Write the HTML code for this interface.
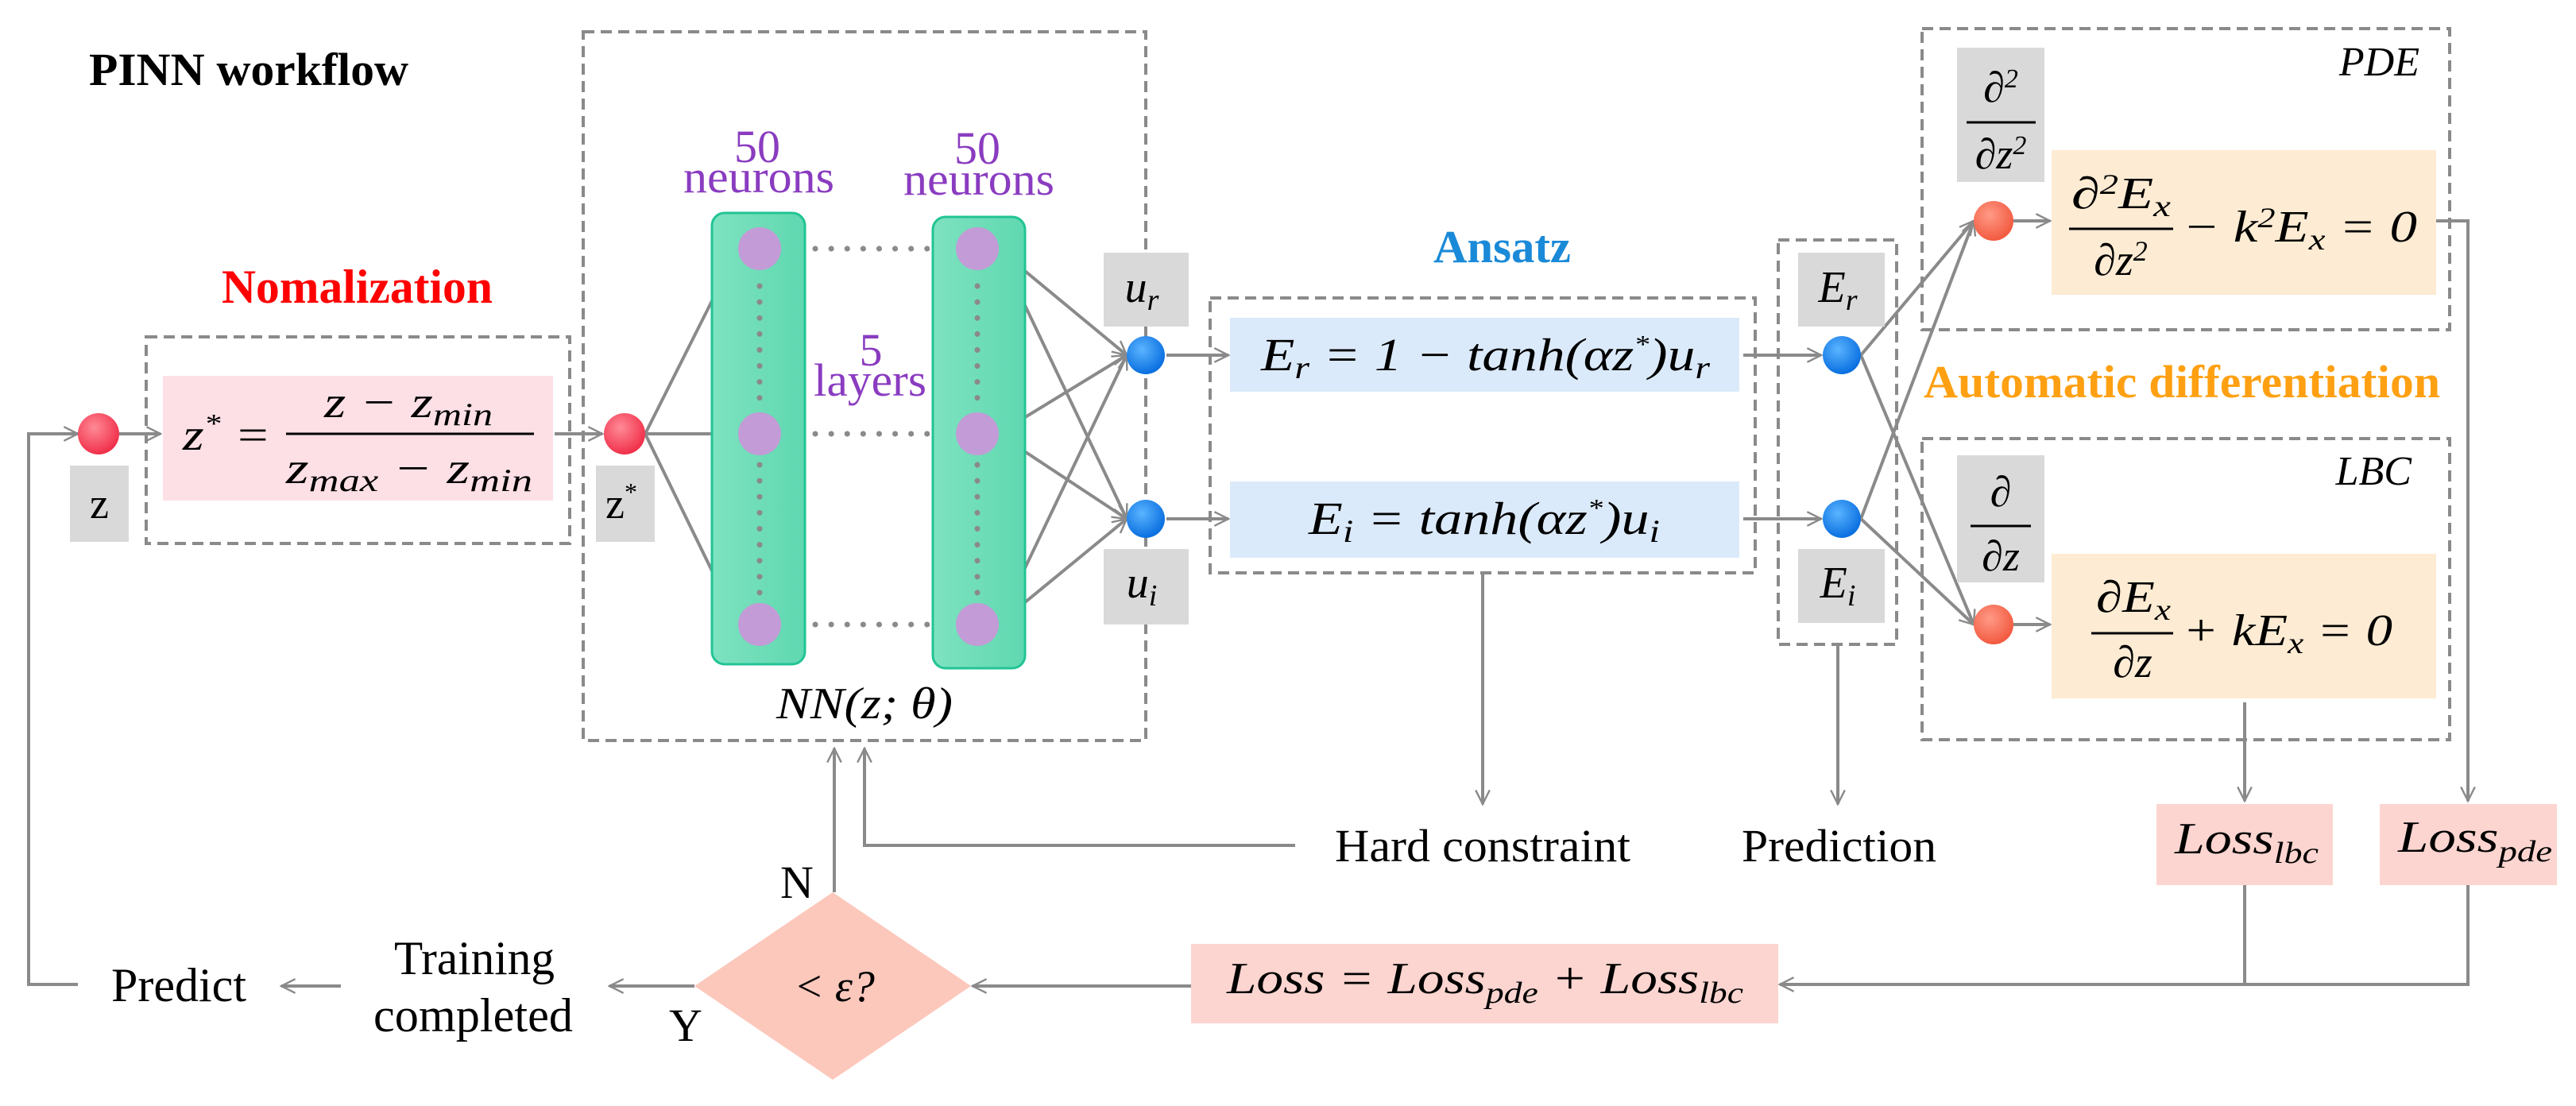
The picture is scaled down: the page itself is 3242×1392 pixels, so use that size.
<!DOCTYPE html>
<html><head><meta charset="utf-8"><style>
html,body{margin:0;padding:0;background:#fff;}
svg{display:block;font-family:"Liberation Serif","DejaVu Serif","Times New Roman",serif;}
.it{font-family:"Liberation Serif","DejaVu Serif","Times New Roman",serif;font-style:italic;}
.rm{font-family:"Liberation Serif","DejaVu Serif","Times New Roman",serif;}
</style></head><body>
<svg width="3242" height="1392" viewBox="0 0 3242 1392" xmlns="http://www.w3.org/2000/svg">
<defs>
<marker id="b" viewBox="0 0 20 20" refX="18" refY="10" markerWidth="22" markerHeight="22" markerUnits="userSpaceOnUse" orient="auto">
<path d="M2,2 L18,10 L2,18" fill="none" stroke="#8a8a8a" stroke-width="2.2"/>
</marker>
<radialGradient id="red" cx="40%" cy="35%" r="65%"><stop offset="0" stop-color="#ff8a96"/><stop offset="1" stop-color="#f0304a"/></radialGradient>
<radialGradient id="blue" cx="40%" cy="35%" r="65%"><stop offset="0" stop-color="#5ab4ff"/><stop offset="1" stop-color="#0a6fe0"/></radialGradient>
<radialGradient id="org" cx="40%" cy="35%" r="65%"><stop offset="0" stop-color="#ff9a86"/><stop offset="1" stop-color="#f25a40"/></radialGradient>
<linearGradient id="grn" x1="0" y1="0" x2="1" y2="0"><stop offset="0" stop-color="#7ee2c0"/><stop offset="1" stop-color="#5fd8b0"/></linearGradient>
</defs>
<g fill="none" stroke="#8a8a8a" stroke-width="4" stroke-dasharray="14 8">
<rect x="184" y="424" width="533" height="260"/>
<rect x="734" y="40" width="708" height="892"/>
<rect x="1523" y="375" width="686" height="346"/>
<rect x="2238" y="302" width="149" height="509"/>
<rect x="2419" y="36" width="664" height="379"/>
<rect x="2419" y="552" width="664" height="379"/>
</g>
<text x="112" y="107" class="rm" font-weight="bold" font-size="58" textLength="402" lengthAdjust="spacingAndGlyphs">PINN workflow</text>
<text x="279" y="381" class="rm" font-weight="bold" font-size="60" fill="#ff0000" textLength="341" lengthAdjust="spacingAndGlyphs">Nomalization</text>
<text x="1804" y="330" class="rm" font-weight="bold" font-size="58" fill="#1a8ad8" textLength="173" lengthAdjust="spacingAndGlyphs">Ansatz</text>
<text x="2421" y="500" class="rm" font-weight="bold" font-size="58" fill="#ffa012" textLength="650" lengthAdjust="spacingAndGlyphs">Automatic differentiation</text>
<!-- normalization -->
<rect x="205" y="473" width="491" height="157" fill="#fde0e6"/>
<text x="230" y="566" class="it" font-size="56" textLength="111" lengthAdjust="spacingAndGlyphs">z<tspan dy="-22" font-size="34">*</tspan><tspan dy="22"> =</tspan></text>
<text x="408" y="525" class="it" font-size="56" textLength="212" lengthAdjust="spacingAndGlyphs">z − z<tspan font-size="40" dy="10">min</tspan></text>
<line x1="360" y1="546" x2="672" y2="546" stroke="#000" stroke-width="3"/>
<text x="360" y="608" class="it" font-size="56" textLength="310" lengthAdjust="spacingAndGlyphs">z<tspan font-size="40" dy="10">max</tspan><tspan dy="-10"> − z</tspan><tspan font-size="40" dy="10">min</tspan></text>
<rect x="88" y="586" width="74" height="96" fill="#d9d9d9"/>
<text x="125" y="652" class="rm" font-size="54" text-anchor="middle">z</text>
<rect x="750" y="586" width="74" height="96" fill="#d9d9d9"/>
<text x="782" y="652" class="rm" font-size="54" text-anchor="middle">z<tspan font-size="32" dy="-22">*</tspan></text>
<!-- arrows -->
<g stroke="#8a8a8a" stroke-width="4" fill="none">
<path d="M98,1239 H36 V546 H98" marker-end="url(#b)"/>
<path d="M150,546 H202" marker-end="url(#b)"/>
<path d="M698,546 H758" marker-end="url(#b)"/>
<path d="M812,546 L929,313" marker-end="url(#b)"/>
<path d="M812,546 H929" marker-end="url(#b)"/>
<path d="M812,546 L929,786" marker-end="url(#b)"/>
<path d="M1256,313 L1418,447" marker-end="url(#b)"/>
<path d="M1256,546 L1418,447" marker-end="url(#b)"/>
<path d="M1256,786 L1418,447" marker-end="url(#b)"/>
<path d="M1256,313 L1418,653" marker-end="url(#b)"/>
<path d="M1256,546 L1418,653" marker-end="url(#b)"/>
<path d="M1256,786 L1418,653" marker-end="url(#b)"/>
<path d="M1468,447 H1546" marker-end="url(#b)"/>
<path d="M1468,653 H1546" marker-end="url(#b)"/>
<path d="M2194,447 H2292" marker-end="url(#b)"/>
<path d="M2194,653 H2292" marker-end="url(#b)"/>
<path d="M2342,447 L2484,278" marker-end="url(#b)"/>
<path d="M2342,653 L2484,278" marker-end="url(#b)"/>
<path d="M2342,447 L2484,786" marker-end="url(#b)"/>
<path d="M2342,653 L2484,786" marker-end="url(#b)"/>
<path d="M2534,278 H2580" marker-end="url(#b)"/>
<path d="M2534,786 H2580" marker-end="url(#b)"/>
<path d="M1866,721 V1012" marker-end="url(#b)"/>
<path d="M2313,811 V1012" marker-end="url(#b)"/>
<path d="M2825,884 V1008" marker-end="url(#b)"/>
<path d="M3066,278 H3106 V1008" marker-end="url(#b)"/>
<path d="M2825,1114 V1239"/>
<path d="M3106,1114 V1239 H2240" marker-end="url(#b)"/>
<path d="M1499,1241 H1224" marker-end="url(#b)"/>
<path d="M874,1241 H767" marker-end="url(#b)"/>
<path d="M429,1241 H354" marker-end="url(#b)"/>
<path d="M1050,1123 V942" marker-end="url(#b)"/>
<path d="M1630,1064 H1088 V942" marker-end="url(#b)"/>
</g>
<!-- NN -->
<rect x="896" y="268" width="117" height="568" rx="16" fill="url(#grn)" stroke="#22c494" stroke-width="3"/>
<rect x="1174" y="273" width="116" height="568" rx="16" fill="url(#grn)" stroke="#22c494" stroke-width="3"/>
<g stroke="#8a8a8a" stroke-width="7" stroke-linecap="round" stroke-dasharray="0.1 20">
<line x1="1026" y1="313" x2="1168" y2="313"/>
<line x1="1026" y1="546" x2="1168" y2="546"/>
<line x1="1026" y1="786" x2="1168" y2="786"/>
<line x1="956" y1="360" x2="956" y2="510"/>
<line x1="956" y1="585" x2="956" y2="750"/>
<line x1="1230" y1="360" x2="1230" y2="510"/>
<line x1="1230" y1="585" x2="1230" y2="750"/>
</g>
<g fill="#c39bd6">
<circle cx="956" cy="313" r="27"/><circle cx="956" cy="546" r="27"/><circle cx="956" cy="786" r="27"/>
<circle cx="1230" cy="313" r="27"/><circle cx="1230" cy="546" r="27"/><circle cx="1230" cy="786" r="27"/>
</g>
<g class="rm" font-size="58" fill="#8a3cc0">
<text x="953" y="204" text-anchor="middle">50</text><text x="860" y="242" textLength="190" lengthAdjust="spacingAndGlyphs">neurons</text>
<text x="1230" y="206" text-anchor="middle">50</text><text x="1137" y="245" textLength="190" lengthAdjust="spacingAndGlyphs">neurons</text>
<text x="1096" y="460" text-anchor="middle">5</text><text x="1024" y="498" textLength="142" lengthAdjust="spacingAndGlyphs">layers</text>
</g>
<text x="977" y="904" class="it" font-size="56" textLength="222" lengthAdjust="spacingAndGlyphs">NN(z; θ)</text>
<circle cx="124" cy="546" r="26" fill="url(#red)"/>
<circle cx="786" cy="546" r="26" fill="url(#red)"/>
<circle cx="1442" cy="447" r="24" fill="url(#blue)"/>
<circle cx="1442" cy="653" r="24" fill="url(#blue)"/>
<rect x="1389" y="318" width="107" height="93" fill="#d9d9d9"/>
<text x="1437" y="380" class="it" font-size="56" text-anchor="middle">u<tspan font-size="38" dy="10">r</tspan></text>
<rect x="1389" y="691" width="107" height="95" fill="#d9d9d9"/>
<text x="1437" y="752" class="it" font-size="56" text-anchor="middle">u<tspan font-size="38" dy="10">i</tspan></text>
<!-- ansatz -->
<rect x="1548" y="400" width="641" height="93" fill="#dbeafa"/>
<text x="1587" y="466" class="it" font-size="58" textLength="565" lengthAdjust="spacingAndGlyphs">E<tspan font-size="40" dy="10">r</tspan><tspan dy="-10"> = 1 − tanh(αz</tspan><tspan font-size="32" dy="-22">*</tspan><tspan dy="22">)u</tspan><tspan font-size="40" dy="10">r</tspan></text>
<rect x="1548" y="606" width="641" height="96" fill="#dbeafa"/>
<text x="1647" y="672" class="it" font-size="58" textLength="442" lengthAdjust="spacingAndGlyphs">E<tspan font-size="40" dy="10">i</tspan><tspan dy="-10"> = tanh(αz</tspan><tspan font-size="32" dy="-22">*</tspan><tspan dy="22">)u</tspan><tspan font-size="40" dy="10">i</tspan></text>
<circle cx="2318" cy="447" r="24" fill="url(#blue)"/>
<circle cx="2318" cy="653" r="24" fill="url(#blue)"/>
<rect x="2263" y="318" width="109" height="93" fill="#d9d9d9"/>
<text x="2313" y="380" class="it" font-size="56" text-anchor="middle">E<tspan font-size="38" dy="10">r</tspan></text>
<rect x="2263" y="691" width="109" height="93" fill="#d9d9d9"/>
<text x="2313" y="752" class="it" font-size="56" text-anchor="middle">E<tspan font-size="38" dy="10">i</tspan></text>
<!-- PDE -->
<text x="3045" y="95" class="it" font-size="52" text-anchor="end">PDE</text>
<rect x="2463" y="60" width="110" height="169" fill="#d9d9d9"/>
<text x="2518" y="128" class="it" font-size="54" text-anchor="middle">∂<tspan font-size="34" dy="-18">2</tspan></text>
<line x1="2475" y1="154" x2="2562" y2="154" stroke="#000" stroke-width="3"/>
<text x="2518" y="212" class="it" font-size="54" text-anchor="middle">∂z<tspan font-size="34" dy="-18">2</tspan></text>
<rect x="2582" y="189" width="484" height="182" fill="#fdebd3"/>
<text x="2607" y="262" class="it" font-size="56" textLength="125" lengthAdjust="spacingAndGlyphs">∂<tspan font-size="36" dy="-18">2</tspan><tspan dy="18">E</tspan><tspan font-size="38" dy="10">x</tspan></text>
<line x1="2604" y1="288" x2="2735" y2="288" stroke="#000" stroke-width="3"/>
<text x="2669" y="346" class="it" font-size="56" text-anchor="middle">∂z<tspan font-size="36" dy="-18">2</tspan></text>
<text x="2747" y="304" class="it" font-size="56" textLength="295" lengthAdjust="spacingAndGlyphs">− k<tspan font-size="36" dy="-18">2</tspan><tspan dy="18">E</tspan><tspan font-size="38" dy="10">x</tspan><tspan dy="-10"> = 0</tspan></text>
<circle cx="2509" cy="278" r="25" fill="url(#org)"/>
<!-- LBC -->
<text x="3035" y="610" class="it" font-size="52" text-anchor="end">LBC</text>
<rect x="2463" y="573" width="110" height="160" fill="#d9d9d9"/>
<text x="2518" y="637" class="it" font-size="54" text-anchor="middle">∂</text>
<line x1="2480" y1="662" x2="2556" y2="662" stroke="#000" stroke-width="3"/>
<text x="2518" y="718" class="it" font-size="54" text-anchor="middle">∂z</text>
<rect x="2582" y="697" width="484" height="182" fill="#fdebd3"/>
<text x="2638" y="770" class="it" font-size="56" textLength="94" lengthAdjust="spacingAndGlyphs">∂E<tspan font-size="38" dy="10">x</tspan></text>
<line x1="2632" y1="797" x2="2735" y2="797" stroke="#000" stroke-width="3"/>
<text x="2684" y="852" class="it" font-size="56" text-anchor="middle">∂z</text>
<text x="2747" y="812" class="it" font-size="56" textLength="264" lengthAdjust="spacingAndGlyphs">+ kE<tspan font-size="38" dy="10">x</tspan><tspan dy="-10"> = 0</tspan></text>
<circle cx="2509" cy="786" r="25" fill="url(#org)"/>
<!-- losses -->
<rect x="2714" y="1012" width="222" height="102" fill="#fcd5d0"/>
<text x="2737" y="1074" class="it" font-size="56" textLength="181" lengthAdjust="spacingAndGlyphs">Loss<tspan font-size="38" dy="12">lbc</tspan></text>
<rect x="2995" y="1012" width="223" height="102" fill="#fcd5d0"/>
<text x="3018" y="1072" class="it" font-size="56" textLength="194" lengthAdjust="spacingAndGlyphs">Loss<tspan font-size="38" dy="12">pde</tspan></text>
<rect x="1499" y="1188" width="739" height="100" fill="#fcd5d0"/>
<text x="1544" y="1250" class="it" font-size="56" textLength="650" lengthAdjust="spacingAndGlyphs">Loss = Loss<tspan font-size="38" dy="12">pde</tspan><tspan dy="-12"> + Loss</tspan><tspan font-size="38" dy="12">lbc</tspan></text>
<text x="1680" y="1084" class="rm" font-size="58" textLength="372" lengthAdjust="spacingAndGlyphs">Hard constraint</text>
<text x="2192" y="1084" class="rm" font-size="58" textLength="245" lengthAdjust="spacingAndGlyphs">Prediction</text>
<!-- decision -->
<polygon points="1048,1123 1222,1241 1048,1359 874,1241" fill="#fcc8bc"/>
<text x="1050" y="1260" class="it" font-size="56" text-anchor="middle">&lt; ε?</text>
<text x="1003" y="1130" class="rm" font-size="58" text-anchor="middle">N</text>
<text x="863" y="1310" class="rm" font-size="58" text-anchor="middle">Y</text>
<text x="496" y="1226" class="rm" font-size="60" textLength="202" lengthAdjust="spacingAndGlyphs">Training</text>
<text x="470" y="1298" class="rm" font-size="60" textLength="251" lengthAdjust="spacingAndGlyphs">completed</text>
<text x="140" y="1260" class="rm" font-size="60" textLength="170" lengthAdjust="spacingAndGlyphs">Predict</text>
</svg>
</body></html>
